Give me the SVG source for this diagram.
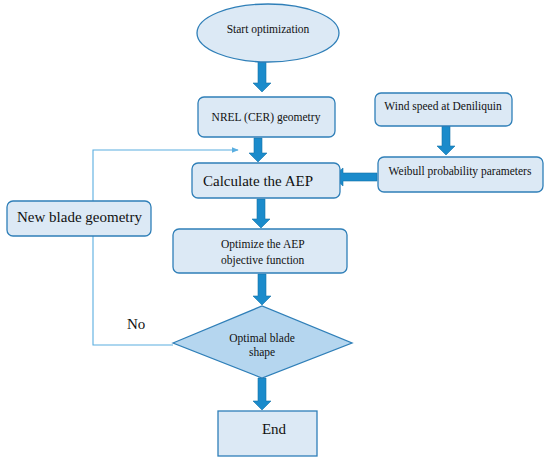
<svg xmlns="http://www.w3.org/2000/svg" width="550" height="461" viewBox="0 0 550 461">
<style>
.box{fill:#dce9f5;stroke:#2f7fb8;stroke-width:1.3}
.dia{fill:#b5d6ef;stroke:#2f7fb8;stroke-width:1.3}
.arr{fill:#1b8bcb;stroke:#1573aa;stroke-width:0.6}
.t{font-family:"Liberation Serif","DejaVu Serif",serif;fill:#111;font-size:11.5px}
.big{font-size:15px}
.thin{fill:none;stroke:#5aaee0;stroke-width:1.1}
</style>
<defs>
<marker id="ah" viewBox="0 0 10 10" refX="9" refY="5" markerWidth="7" markerHeight="7" orient="auto" markerUnits="userSpaceOnUse">
<path d="M0,1 L10,5 L0,9 z" fill="#5aaee0"/>
</marker>
</defs>
<rect width="550" height="461" fill="#fff"/>
<g id="connectors">
<polyline class="thin" points="173,345 93,345 93,150 238,150" marker-end="url(#ah)"/>
<polygon class="arr" points="258,62 266,62 266,83 271,83 262,92 253,83 258,83"/>
<polygon class="arr" points="254,138 262,138 262,153 267,153 258,162 249,153 254,153"/>
<polygon class="arr" points="257,199 265,199 265,219 270,219 261,228 252,219 257,219"/>
<polygon class="arr" points="258,274 266,274 266,296 271,296 262,305 253,296 258,296"/>
<polygon class="arr" points="258,378 266,378 266,401 271,401 262,410 253,401 258,401"/>
<polygon class="arr" points="442,126 450,126 450,146 455,146 446,155 437,146 442,146"/>
<polygon class="arr" points="377,173 377,181 343,181 343,186 333,177 343,168 343,173"/>
</g>
<g id="start">
<ellipse class="box" cx="268" cy="33" rx="71" ry="29"/>
<text class="t" x="268" y="33" text-anchor="middle">Start optimization</text>
</g>
<g id="nrel">
<rect class="box" x="198" y="97" width="137" height="40" rx="6"/>
<text class="t" x="266" y="121" text-anchor="middle">NREL (CER) geometry</text>
</g>
<g id="wind">
<rect class="box" x="375" y="93" width="137" height="33" rx="6"/>
<text class="t" x="443" y="110" text-anchor="middle">Wind speed at Deniliquin</text>
</g>
<g id="weibull">
<rect class="box" x="378" y="157" width="165" height="35" rx="6"/>
<text class="t" x="460" y="175" text-anchor="middle">Weibull probability parameters</text>
</g>
<g id="calc">
<rect class="box" x="192" y="163" width="148" height="35" rx="6"/>
<text class="t big" x="203" y="186">Calculate the AEP</text>
</g>
<g id="newblade">
<rect class="box" x="7" y="201" width="144" height="35" rx="6"/>
<text class="t big" x="17" y="222">New blade geometry</text>
</g>
<g id="optimize">
<rect class="box" x="173" y="229" width="174" height="44" rx="6"/>
<text class="t" x="221" y="248">Optimize the AEP</text>
<text class="t" x="221" y="264">objective function</text>
</g>
<g id="optimal">
<polygon class="dia" points="173,343 262,306 352,343 262,378"/>
<text class="t" x="262" y="342" text-anchor="middle">Optimal blade</text>
<text class="t" x="262" y="356" text-anchor="middle">shape</text>
</g>
<g id="no">
<text class="t big" x="127" y="329">No</text>
</g>
<g id="end">
<rect class="box" x="218" y="411" width="99" height="45"/>
<text class="t big" x="274" y="434" text-anchor="middle">End</text>
</g>
</svg>
